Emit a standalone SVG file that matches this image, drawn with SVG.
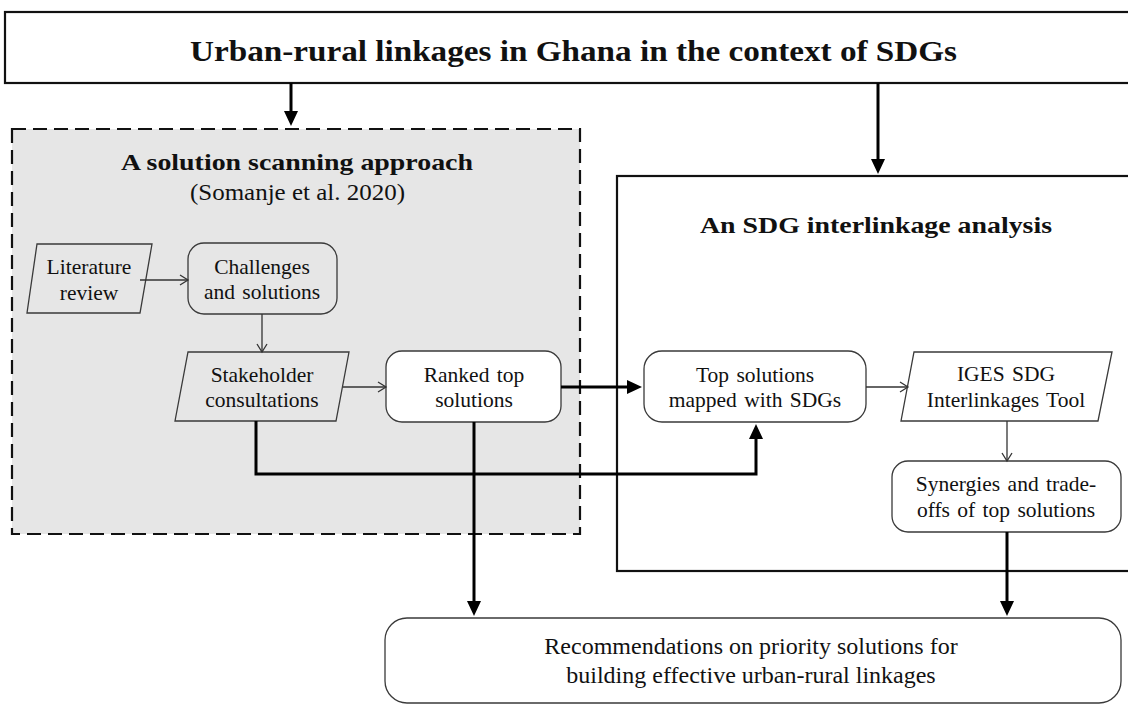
<svg xmlns="http://www.w3.org/2000/svg" width="1128" height="704" viewBox="0 0 1128 704" font-family="'Liberation Serif', 'Times New Roman', Times, serif">
  <style>
    text { fill: #111; }
    .title { font-weight: bold; font-size: 30px; }
    .head { font-weight: bold; font-size: 24px; }
    .sub { font-size: 23px; }
    .lbl { font-size: 21.5px; text-anchor: middle; word-spacing: 2px; }
    .big { font-size: 24px; text-anchor: middle; }
    .frame { fill: #fff; stroke: #111; stroke-width: 2.2; }
    .dash { fill: #e6e6e6; stroke: #111; stroke-width: 2.2; stroke-dasharray: 14 7; }
    .node { stroke: #3a3a3a; stroke-width: 1.3; }
    .grey { fill: none; }
    .white { fill: #fff; }
    .thin { fill: none; stroke: #333; stroke-width: 1.3; marker-end: url(#open); }
    .thick { fill: none; stroke: #000; stroke-width: 3; marker-end: url(#solid); }
  </style>
  <defs>
    <marker id="open" markerUnits="userSpaceOnUse" markerWidth="12" markerHeight="14" refX="9" refY="6" orient="auto" viewBox="0 0 12 12">
      <path d="M1,1 L9,6 L1,11" fill="none" stroke="#333" stroke-width="1.3"/>
    </marker>
    <marker id="solid" markerUnits="userSpaceOnUse" markerWidth="16" markerHeight="14" refX="4" refY="7" orient="auto" viewBox="0 0 16 14">
      <path d="M0,0 L15,7 L0,14 z" fill="#000"/>
    </marker>
  </defs>

  <!-- outer frames -->
  <g id="top-frame">
    <rect class="frame" x="5" y="12" width="1140" height="71"/>
    <text class="title" x="190" y="61" textLength="767" lengthAdjust="spacingAndGlyphs">Urban-rural linkages in Ghana in the context of SDGs</text>
  </g>
  <g id="scanning-frame">
    <rect class="dash" x="12" y="129" width="568" height="405"/>
    <text class="head" x="121" y="170" textLength="352" lengthAdjust="spacingAndGlyphs">A solution scanning approach</text>
    <text class="sub" x="190" y="200" textLength="215" lengthAdjust="spacingAndGlyphs">(Somanje et al. 2020)</text>
  </g>
  <g id="interlinkage-frame">
    <rect class="frame" x="617" y="176" width="530" height="395" fill="none"/>
    <text class="head" x="700" y="233" textLength="352" lengthAdjust="spacingAndGlyphs">An SDG interlinkage analysis</text>
  </g>

  <!-- nodes -->
  <g id="literature">
    <polygon class="node grey" points="37,244 152,244 140,313 27,313"/>
    <text class="lbl" x="89" y="274">Literature</text>
    <text class="lbl" x="89" y="300">review</text>
  </g>
  <g id="challenges">
    <rect class="node grey" x="188" y="243" width="149" height="71" rx="16"/>
    <text class="lbl" x="262" y="274">Challenges</text>
    <text class="lbl" x="262" y="299">and solutions</text>
  </g>
  <g id="stakeholder">
    <polygon class="node grey" points="188,352 349,352 336,421 175,421"/>
    <text class="lbl" x="262" y="382">Stakeholder</text>
    <text class="lbl" x="262" y="407">consultations</text>
  </g>
  <g id="ranked">
    <rect class="node white" x="386" y="351" width="175" height="71" rx="16"/>
    <text class="lbl" x="474" y="382">Ranked top</text>
    <text class="lbl" x="474" y="407">solutions</text>
  </g>
  <g id="mapped">
    <rect class="node white" x="644" y="351" width="222" height="71" rx="18"/>
    <text class="lbl" x="755" y="382">Top solutions</text>
    <text class="lbl" x="755" y="407">mapped with SDGs</text>
  </g>
  <g id="iges-tool">
    <polygon class="node white" points="914,352 1112,352 1098,421 901,421"/>
    <text class="lbl" x="1006" y="381">IGES SDG</text>
    <text class="lbl" x="1006" y="407">Interlinkages Tool</text>
  </g>
  <g id="synergies">
    <rect class="node white" x="892" y="461" width="229" height="71" rx="16"/>
    <text class="lbl" x="1006" y="491">Synergies and trade-</text>
    <text class="lbl" x="1006" y="517">offs of top solutions</text>
  </g>
  <g id="recommendations">
    <rect class="node white" x="385" y="618" width="736" height="85" rx="22"/>
    <text class="big" x="751" y="654">Recommendations on priority solutions for</text>
    <text class="big" x="751" y="683">building effective urban-rural linkages</text>
  </g>

  <!-- connectors -->
  <g id="connectors">
    <path class="thick" d="M291,83 L291,115"/>
    <path class="thick" d="M878,83 L878,163"/>
    <path class="thin" d="M140,280 L188,280"/>
    <path class="thin" d="M262,314 L262,352"/>
    <path class="thin" d="M343,387 L386,387"/>
    <path class="thin" d="M866,387 L908,387"/>
    <path class="thin" d="M1007,421 L1007,461"/>
    <path class="thick" d="M561,387 L631,387"/>
    <path class="thick" d="M256,421 L256,474 L756,474 L756,435"/>
    <path class="thick" d="M474,422 L474,605"/>
    <path class="thick" d="M1007,532 L1007,605"/>
  </g>
</svg>
